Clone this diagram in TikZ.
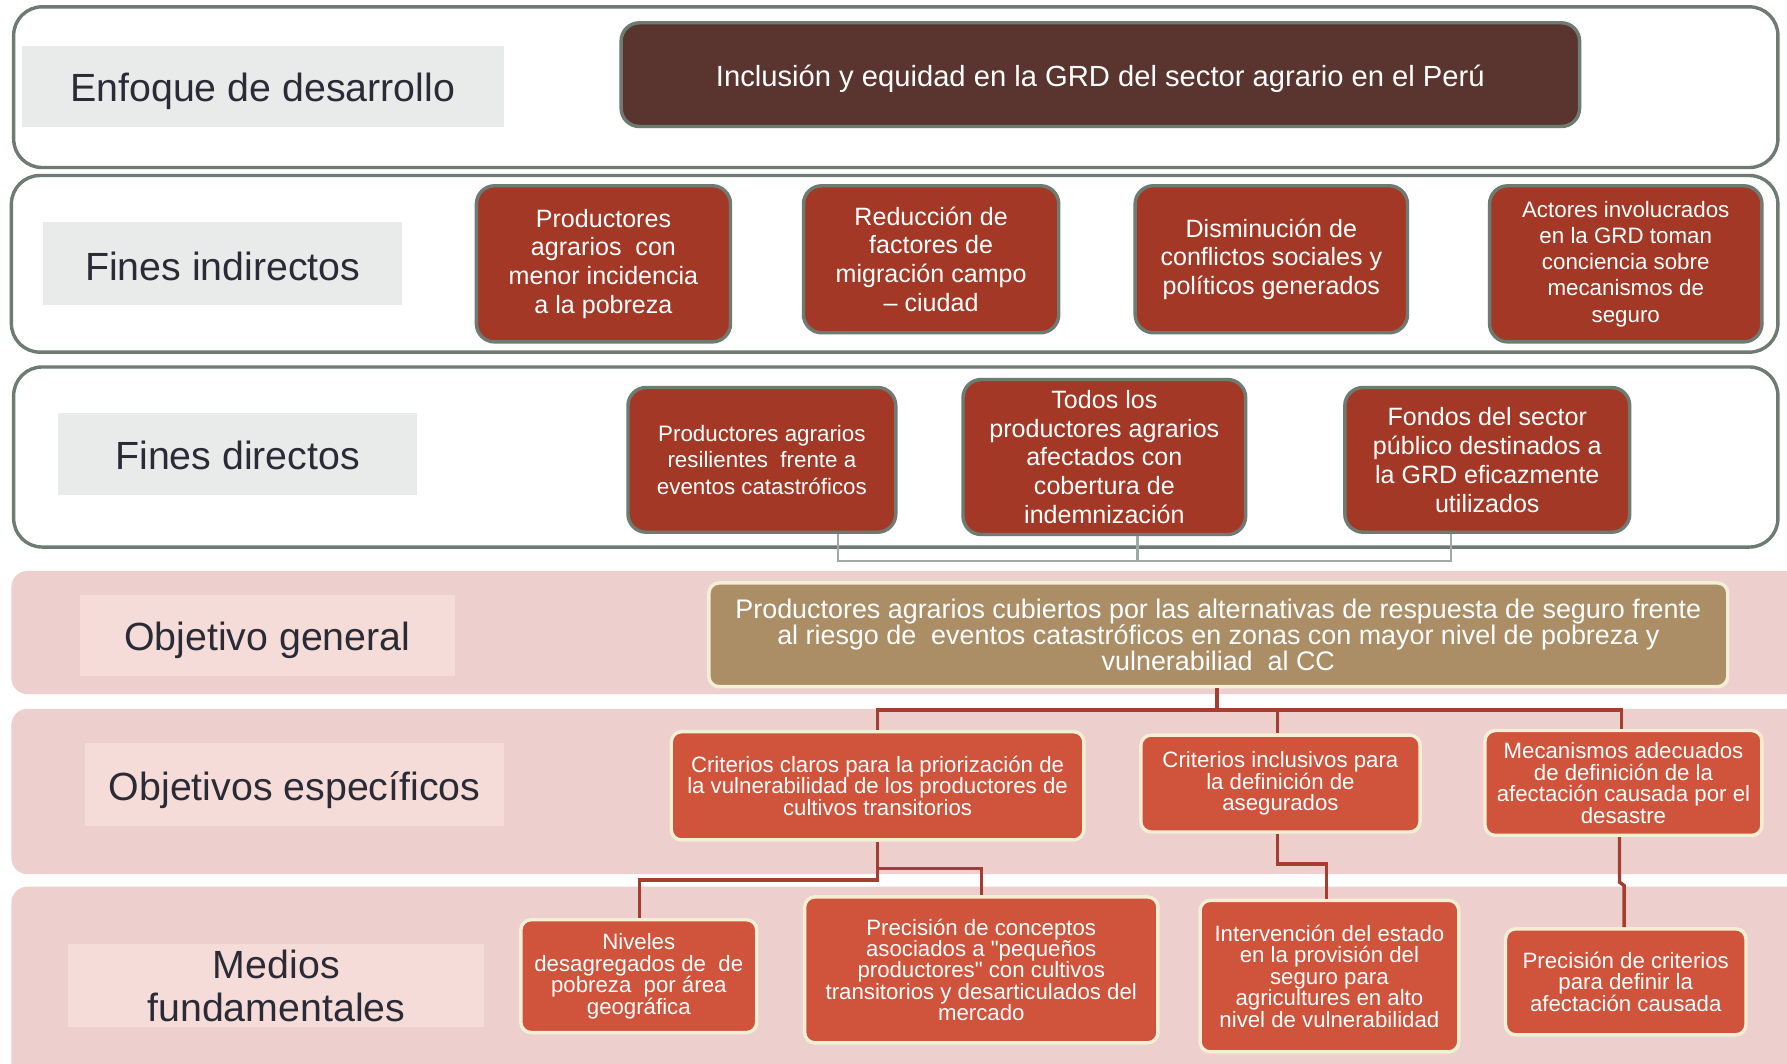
\documentclass[tikz,border=0pt]{standalone}
\usepackage{fontspec}
\setmainfont{Liberation Sans}
\newfontfamily\qfont{Liberation Sans}
\definecolor{bandgray}{HTML}{6D7B72}
\definecolor{labelgray}{HTML}{E9EAEA}
\definecolor{labeltext}{HTML}{2A2B36}
\definecolor{darkbrown}{HTML}{5A342E}
\definecolor{finred}{HTML}{A43826}
\definecolor{pinkband}{HTML}{EDD0CE}
\definecolor{pinklabel}{HTML}{F5DCD8}
\definecolor{tanfill}{HTML}{AB8D66}
\definecolor{cream}{HTML}{F2EFD5}
\definecolor{objred}{HTML}{D0533C}
\definecolor{linered}{HTML}{A53D30}
\definecolor{linegray}{HTML}{9DAAA8}
\newcommand{\down}[2]{\raisebox{0pt}[\dimexpr\height+#1pt\relax][\depth]{#2}}
\begin{document}
\begin{tikzpicture}[x=1pt,y=-1pt,
  band/.style={draw=bandgray,line width=3pt,rounded corners=25pt,fill=white},
  pband/.style={fill=pinkband,rounded corners=14pt},
  lab/.style={fill=labelgray,text=labeltext,inner sep=0pt,font=\fontsize{34.5}{37.5}\selectfont,align=center},
  plab/.style={lab,fill=pinklabel},
  finbox/.style={fill=finred,draw=bandgray,line width=3pt,rounded corners=16pt,text=white,inner sep=0pt,align=center},
  objbox/.style={fill=objred,draw=cream,line width=3pt,rounded corners=9pt,text=white,inner sep=0pt,align=center},
  fbig/.style={font=\fontsize{22}{25.3}\selectfont},
  fmid/.style={font=\fontsize{19.6}{23}\selectfont},
  fsmall/.style={font=\fontsize{19.5}{18.8}\selectfont},
  redline/.style={draw=linered,line width=3pt},
  grayline/.style={draw=linegray,line width=2pt}]
\fill[white] (0,0) rectangle (1568,933);
\useasboundingbox (0,0) rectangle (1568,933);
% bands
\draw[band] (12,6) rectangle (1560,147);
\draw[band] (10,154) rectangle (1560,309);
\draw[band] (12,322) rectangle (1560,480);
\fill[pband] (10,501) rectangle (1590,609);
\fill[pband] (10,622) rectangle (1590,767);
\fill[pband] (10,778) rectangle (1590,960);
% labels
\node[lab,minimum width=423pt,minimum height=71pt] (L1) at (230.5,75.5) {\down{10}{Enfoque de desarrollo}};
\node[lab,minimum width=315pt,minimum height=73pt] (L2) at (195.5,231.5) {\down{4}{Fines indirectos}};
\node[lab,minimum width=315pt,minimum height=72pt] (L3) at (208.5,398) {\down{4}{Fines directos}};
\node[plab,minimum width=329pt,minimum height=71pt] (L4) at (234.5,557.5) {\down{9}{Objetivo general}};
\node[plab,minimum width=367pt,minimum height=73pt] (L5) at (258.5,688.5) {\down{9}{Objetivos específicos}};
\node[plab,minimum width=365pt,minimum height=73pt] (L6) at (242.5,865) {Medios\\fundamentales};
% top box
\node[finbox,fill=darkbrown,minimum width=841pt,minimum height=91pt,font=\fontsize{25.6}{28}\selectfont] (D) at (965.5,65.5) {\down{7}{Inclusión y equidad en la GRD del sector agrario en el Perú}};
% fines indirectos
\node[finbox,fbig,minimum width=223pt,minimum height=137pt] (FI1) at (529.5,231.5) {Productores\\agrarios\ \ con\\menor incidencia\\a la pobreza};
\node[finbox,fbig,minimum width=224pt,minimum height=129pt] (FI2) at (817,227.5) {Reducción de\\factores de\\migración campo\\– ciudad};
\node[finbox,fbig,minimum width=239pt,minimum height=129pt] (FI3) at (1115.5,227.5) {Disminución de\\conflictos sociales y\\políticos generados};
\node[finbox,fmid,minimum width=239pt,minimum height=137pt] (FI4) at (1426.5,231.5) {Actores involucrados\\en la GRD toman\\conciencia sobre\\mecanismos de\\seguro};
% fines directos
\node[finbox,fmid,minimum width=235pt,minimum height=127pt] (FD1) at (668.5,403.5) {Productores agrarios\\resilientes\ \ frente a\\eventos catastróficos};
\node[finbox,fbig,minimum width=248pt,minimum height=136pt] (FD2) at (969,401) {Todos los\\productores agrarios\\afectados con\\cobertura de\\indemnización};
\node[finbox,fbig,minimum width=250pt,minimum height=127pt] (FD3) at (1305,403.5) {Fondos del sector\\público destinados a\\la GRD eficazmente\\utilizados};
% objetivo general
\node[objbox,fill=tanfill,minimum width=894pt,minimum height=91pt,font=\fontsize{23.6}{22.8}\selectfont] (TB) at (1069,557) {Productores agrarios cubiertos por las alternativas de respuesta de seguro frente\\al riesgo de\ \ eventos catastróficos en zonas con mayor nivel de pobreza y\\vulnerabiliad\ \ al CC};
% objetivos especificos
\node[objbox,fsmall,minimum width=362pt,minimum height=95pt] (OE1) at (770,689.5) {Criterios claros para la priorización de\\la vulnerabilidad de los productores de\\cultivos transitorios};
\node[objbox,fsmall,minimum width=245pt,minimum height=85pt] (OE2) at (1123.5,687.5) {Criterios inclusivos para\\la definición de\\asegurados};
\node[objbox,fsmall,minimum width=243pt,minimum height=92pt] (OE3) at (1424.5,687) {Mecanismos adecuados\\de definición de la\\afectación causada por el\\desastre};
% medios fundamentales
\node[objbox,fsmall,minimum width=207pt,minimum height=99pt] (MF1) at (560.5,856.5) {Niveles\\desagregados de\ \ de\\pobreza\ \ por área\\geográfica};
\node[objbox,fsmall,minimum width=310pt,minimum height=128pt] (MF2) at (861,851) {Precisión de conceptos\\asociados a {\qfont"}pequeños\\productores{\qfont"} con cultivos\\transitorios y desarticulados del\\mercado};
\node[objbox,fsmall,minimum width=227pt,minimum height=133pt] (MF3) at (1166.5,856.5) {Intervención del estado\\en la provisión del\\seguro para\\agricultures en alto\\nivel de vulnerabilidad};
\node[objbox,fsmall,minimum width=211pt,minimum height=93pt] (MF4) at (1426.5,861.5) {Precisión de criterios\\para definir la\\afectación causada};
% gray connectors
\coordinate (gL) at (735,492);
\coordinate (gM) at (998,492);
\coordinate (gR) at (1273,492);
\draw[grayline] (FD1.south -| gL) -- (gL) -- (gR) -- (FD3.south -| gR);
\draw[grayline] (FD2.south -| gM) -- (gM);
% red connectors
\coordinate (j0) at (1068,623);
\coordinate (jL) at (770,623);
\coordinate (jM) at (1121,623);
\coordinate (jR) at (1423,623);
\draw[redline] (TB.south -| j0) -- (j0);
\draw[redline] (OE1.north -| jL) -- (jL) -- (jR) -- (OE3.north -| jR);
\draw[redline] (jM) -- (OE2.north -| jM);
\coordinate (k1) at (770,772);
\coordinate (k1L) at (561,772);
\coordinate (k2) at (861,762);
\draw[redline] (OE1.south) -- (k1) -- (k1L) -- (MF1.north -| k1L);
\draw[redline] (OE1.south |- k2) -- (k2) -- (MF2.north -| k2);
\coordinate (k3a) at (1121,758);
\coordinate (k3b) at (1164,758);
\draw[redline] (OE2.south -| k3a) -- (k3a) -- (k3b) -- (MF3.north -| k3b);
\coordinate (k4a) at (1421,774);
\coordinate (k4b) at (1425,777);
\draw[redline] (OE3.south -| k4a) -- (k4a) -- (k4b) -- (MF4.north -| k4b);
\end{tikzpicture}
\end{document}
